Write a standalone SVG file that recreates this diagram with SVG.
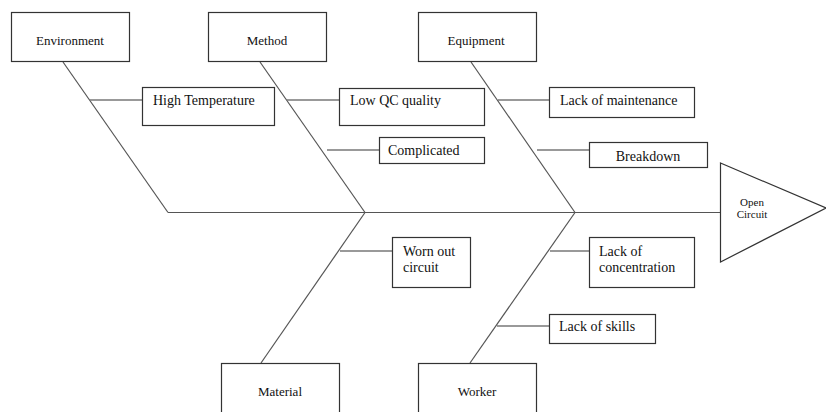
<svg xmlns="http://www.w3.org/2000/svg" width="826" height="412" viewBox="0 0 826 412">
<style>
.box{fill:#fff;stroke:#333;stroke-width:1.2}
.bone{stroke:#555;stroke-width:1.2;fill:none}
.twig{stroke:#777;stroke-width:1.6;fill:none}
.cat{font-family:"Liberation Serif",serif;font-size:13px;fill:#111;text-anchor:middle}
.lbl{font-family:"Liberation Serif",serif;font-size:14px;fill:#111}
.sm{font-family:"Liberation Serif",serif;font-size:11px;fill:#111;text-anchor:middle}
</style>
<rect width="826" height="412" fill="#fff"/>
<g id="connectors">
<line class="bone" x1="168" y1="212.5" x2="720" y2="212.5"/>
<line class="bone" x1="63" y1="62" x2="168" y2="212.5"/>
<line class="bone" x1="260" y1="62" x2="365" y2="212.5"/>
<line class="bone" x1="471" y1="62" x2="575" y2="212.5"/>
<line class="bone" x1="365" y1="212.5" x2="261" y2="363"/>
<line class="bone" x1="575" y1="212.5" x2="470" y2="363"/>
<line class="twig" x1="90" y1="100" x2="142" y2="100"/>
<line class="twig" x1="287" y1="100" x2="339" y2="100"/>
<line class="twig" x1="327" y1="150" x2="379" y2="150"/>
<line class="twig" x1="498" y1="100" x2="549" y2="100"/>
<line class="twig" x1="537" y1="150" x2="589" y2="150"/>
<line class="twig" x1="340" y1="251" x2="392" y2="251"/>
<line class="twig" x1="550" y1="251" x2="589" y2="251"/>
<line class="twig" x1="497" y1="326" x2="549" y2="326"/>
</g>
<g id="environment"><rect class="box" x="11.5" y="12.5" width="118" height="49"/><text class="cat" x="70" y="45">Environment</text></g>
<g id="method"><rect class="box" x="208.5" y="12.5" width="118" height="49"/><text class="cat" x="267" y="45">Method</text></g>
<g id="equipment"><rect class="box" x="418.5" y="12.5" width="118" height="49"/><text class="cat" x="476" y="45">Equipment</text></g>
<g id="material"><rect class="box" x="221.5" y="363.5" width="118" height="52"/><text class="cat" x="280" y="396">Material</text></g>
<g id="worker"><rect class="box" x="418.5" y="363.5" width="118" height="52"/><text class="cat" x="477" y="396">Worker</text></g>
<g id="high-temperature"><rect class="box" x="142.5" y="87.5" width="132" height="38"/><text class="lbl" x="153" y="105">High Temperature</text></g>
<g id="low-qc-quality"><rect class="box" x="339.5" y="88.5" width="145" height="37"/><text class="lbl" x="350" y="105">Low QC quality</text></g>
<g id="complicated"><rect class="box" x="379.5" y="137.5" width="105" height="26"/><text class="lbl" x="388" y="155">Complicated</text></g>
<g id="lack-of-maintenance"><rect class="box" x="549.5" y="87.5" width="145" height="30"/><text class="lbl" x="560" y="105">Lack of maintenance</text></g>
<g id="breakdown"><rect class="box" x="589.5" y="142.5" width="118" height="25"/><text class="lbl" x="648" y="161" text-anchor="middle">Breakdown</text></g>
<g id="worn-out-circuit"><rect class="box" x="392.5" y="237.5" width="78" height="50"/><text class="lbl" x="403" y="256">Worn out</text><text class="lbl" x="403" y="272">circuit</text></g>
<g id="lack-of-concentration"><rect class="box" x="589.5" y="237.5" width="105" height="50"/><text class="lbl" x="599" y="256">Lack of</text><text class="lbl" x="599" y="272">concentration</text></g>
<g id="lack-of-skills"><rect class="box" x="549.5" y="314.5" width="106" height="29"/><text class="lbl" x="559" y="331">Lack of skills</text></g>
<g id="open-circuit"><polygon class="box" points="720.5,163 826,208 720.5,262"/><text class="sm" x="752" y="206">Open</text><text class="sm" x="752" y="218">Circuit</text></g>
</svg>
